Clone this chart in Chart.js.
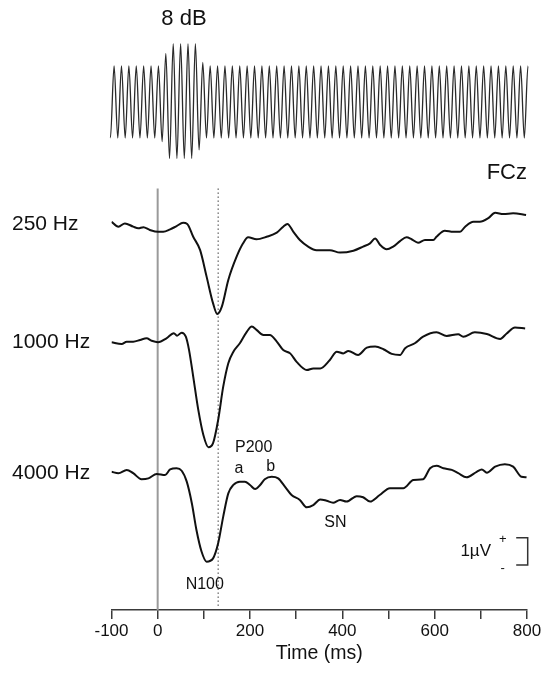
<!DOCTYPE html>
<html>
<head>
<meta charset="utf-8">
<script src="https://cdn.jsdelivr.net/npm/chart.js@4.4.1/dist/chart.umd.min.js"></script>
<style>
  html, body { margin: 0; padding: 0; background: #fff; }
</style>
</head>
<body>
<canvas id="erpChart" width="544" height="676"></canvas>
<script>
// ERP at FCz, amplitudes in microvolts, times in ms
var t250 = [-100,-85,-71,-53,-42,-31,-17,1,12,27,41,55,64,77,92,106,120,129,139,153,171,185,196,214,236,258,272,281,294,308,326,344,373,395,424,445,460,471,482,496,510,525,539,550,564,579,597,604,622,640,655,666,684,698,716,731,749,770,798];
var v250 = [0.23,0.05,0.17,0.05,-0.01,0.03,-0.07,-0.14,-0.14,-0.05,0.07,0.19,0.15,-0.32,-0.81,-1.78,-2.76,-3.15,-2.88,-1.90,-1.05,-0.56,-0.34,-0.41,-0.32,-0.17,0.05,0.15,-0.14,-0.44,-0.68,-0.81,-0.81,-0.90,-0.83,-0.68,-0.56,-0.38,-0.62,-0.78,-0.68,-0.48,-0.34,-0.41,-0.54,-0.44,-0.44,-0.32,-0.10,-0.14,-0.14,0.05,0.23,0.23,0.36,0.56,0.51,0.54,0.48];

var t1000 = [-100,-78,-67,-53,-38,-24,-13,1,19,35,42,52,61,68,77,88,99,110,120,131,142,153,164,178,193,204,214,229,243,258,272,287,301,323,337,352,373,388,402,413,434,453,471,489,507,525,536,557,575,604,626,651,662,687,713,742,756,774,796];
var v1000 = [-0.08,-0.15,-0.06,-0.06,0,0.06,-0.03,-0.08,0.06,0.25,0.16,0.27,0.12,-0.37,-1.34,-2.56,-3.48,-3.93,-3.78,-2.93,-1.71,-0.85,-0.43,-0.12,0.30,0.49,0.37,0.18,0.18,-0.06,-0.37,-0.49,-0.80,-1.10,-1.04,-1.04,-0.73,-0.43,-0.49,-0.40,-0.55,-0.28,-0.24,-0.34,-0.51,-0.55,-0.30,-0.12,0.12,0.28,0.15,0.21,0.12,0.28,0.22,0.04,0.24,0.46,0.42];

var t4000 = [-100,-85,-67,-53,-35,-20,-2,16,27,41,52,63,74,84,95,106,120,131,142,153,164,178,189,200,211,222,232,247,261,276,290,308,323,337,352,366,380,395,409,431,445,460,481,503,532,554,575,590,604,619,637,651,669,691,702,713,731,752,770,788,799];
var v4000 = [0.08,0.03,0.15,0.03,-0.19,-0.16,0,-0.04,0.17,0.21,0.12,-0.28,-1.07,-2.05,-2.84,-3.21,-3.09,-2.54,-1.56,-0.71,-0.40,-0.28,-0.28,-0.40,-0.55,-0.40,-0.19,-0.10,-0.16,-0.47,-0.77,-0.95,-1.22,-1.14,-0.93,-0.98,-1.05,-0.95,-1.01,-0.81,-0.85,-1.01,-0.77,-0.52,-0.52,-0.22,-0.19,0.21,0.30,0.21,0.15,0.03,-0.12,0.08,0.17,0.05,0.27,0.36,0.27,-0.10,-0.12];

// stimulus waveform: successive extrema relative to the standard level (8 dB burst near 0-100 ms)
var stimWave = [0.15,
  -1,1,-1,1,-1,1,-1,1,-1,1,-1,1,-1,1,
  -1.1,1.35,-1.57,1.62,-1.57,1.62,-1.57,1.62,-1.57,1.62,-1.33,1.1,
  -1,1,-1,1,-1,1,-1,1,-1,1,-1,1,-1,1,-1,1,-1,1,-1,1,-1,1,-1,1,
  -1,1,-1,1,-1,1,-1,1,-1,1,-1,1,-1,1,-1,1,-1,1,-1,1,-1,1,-1,1,
  -1,1,-1,1,-1,1,-1,1,-1,1,-1,1,-1,1,-1,1,-1,1,-1,1,-1,1,-1,1,
  -1,1,-1,1,-1,1,-1,1,-1,1,-1,1,-1,1,-1,1,
  0];

var xTickLabels = [-100, 0, 200, 400, 600, 800];
var markerTimes = [0, 131];   // stimulus onset, N100 latency

var FONT = "'Liberation Sans', Arial, Helvetica, sans-serif";

function pts(ts, vs) {
  return ts.map(function (t, i) { return { x: t, y: vs[i] }; });
}

var erpStyle = {
  borderColor: '#111', borderWidth: 2, pointRadius: 0,
  cubicInterpolationMode: 'monotone', fill: false
};

var decor = {
  id: 'decor',
  beforeDatasetsDraw: function (chart) {
    var ctx = chart.ctx, x = chart.scales.x, area = chart.chartArea;
    var top = chart.scales.y250.getPixelForValue(1.45);
    ctx.save();
    // onset line
    ctx.strokeStyle = '#9a9a9a'; ctx.lineWidth = 2;
    ctx.beginPath();
    ctx.moveTo(x.getPixelForValue(markerTimes[0]), top);
    ctx.lineTo(x.getPixelForValue(markerTimes[0]), area.bottom);
    ctx.stroke();
    // N100 latency line
    ctx.strokeStyle = '#444'; ctx.lineWidth = 1; ctx.setLineDash([1.5, 2.5]);
    ctx.beginPath();
    ctx.moveTo(x.getPixelForValue(markerTimes[1]), top);
    ctx.lineTo(x.getPixelForValue(markerTimes[1]), area.bottom - 3);
    ctx.stroke();
    ctx.restore();
  },
  afterDatasetsDraw: function (chart) {
    var ctx = chart.ctx, x = chart.scales.x, s = chart.scales;
    ctx.save();
    ctx.fillStyle = '#111';
    ctx.textBaseline = 'middle';

    // condition labels
    ctx.font = '21px ' + FONT;
    ctx.textAlign = 'left';
    ctx.fillText('250 Hz', 12, s.y250.getPixelForValue(0) - 4);
    ctx.fillText('1000 Hz', 12, s.y1000.getPixelForValue(0) + 2);
    ctx.fillText('4000 Hz', 12, s.y4000.getPixelForValue(0) - 1);

    ctx.font = '22px ' + FONT;
    ctx.textAlign = 'right';
    ctx.fillText('FCz', x.getPixelForValue(800), s.y250.getPixelForValue(2.0));
    ctx.textAlign = 'center';
    ctx.fillText('8 dB', x.getPixelForValue(57), s.ys.getPixelForValue(2.3));

    // component labels
    ctx.font = '16px ' + FONT;
    ctx.fillText('P200', x.getPixelForValue(208), s.y4000.getPixelForValue(0.97));
    ctx.fillText('a', x.getPixelForValue(176), s.y4000.getPixelForValue(0.2));
    ctx.fillText('b', x.getPixelForValue(245), s.y4000.getPixelForValue(0.27));
    ctx.fillText('SN', x.getPixelForValue(385), s.y4000.getPixelForValue(-1.78));
    ctx.fillText('N100', x.getPixelForValue(102), s.y4000.getPixelForValue(-4.05));

    // 1 µV scale bar
    var bx = x.getPixelForValue(800) + 0.7;
    var b1 = s.y4000.getPixelForValue(-2.33), b2 = s.y4000.getPixelForValue(-3.33);
    ctx.strokeStyle = '#333'; ctx.lineWidth = 1.5;
    ctx.beginPath();
    ctx.moveTo(bx - 11.5, b1); ctx.lineTo(bx, b1); ctx.lineTo(bx, b2); ctx.lineTo(bx - 11.5, b2);
    ctx.stroke();
    ctx.font = '17px ' + FONT;
    ctx.fillText('1\u00b5V', bx - 52, (b1 + b2) / 2);
    ctx.font = '13px ' + FONT;
    ctx.fillText('+', bx - 25, b1 + 2);
    ctx.fillText('-', bx - 25, b2 + 3);
    ctx.restore();
  }
};

new Chart(document.getElementById('erpChart'), {
  type: 'line',
  data: {
    datasets: [
      Object.assign({ data: pts(t250, v250), yAxisID: 'y250', xAxisID: 'x' }, erpStyle),
      Object.assign({ data: pts(t1000, v1000), yAxisID: 'y1000', xAxisID: 'x' }, erpStyle),
      Object.assign({ data: pts(t4000, v4000), yAxisID: 'y4000', xAxisID: 'x' }, erpStyle),
      {
        data: stimWave.map(function (v, i) { return { x: i, y: v }; }),
        xAxisID: 'xs', yAxisID: 'ys',
        borderColor: '#2a2a2a', borderWidth: 1.3, pointRadius: 0,
        cubicInterpolationMode: 'monotone', clip: false
      }
    ]
  },
  options: {
    responsive: false,
    animation: false,
    devicePixelRatio: 1,
    layout: { padding: { left: 111.5, right: 17, top: 0, bottom: 0 } },
    plugins: { legend: { display: false }, tooltip: { enabled: false } },
    scales: {
      x: {
        type: 'linear', position: 'bottom', min: -100, max: 800,
        afterFit: function (scale) { scale.height = 66; },
        border: { display: true, color: '#3a3a3a', width: 1.5 },
        grid: { drawOnChartArea: false, drawTicks: true, tickLength: 9, color: '#3a3a3a', lineWidth: 1.5 },
        ticks: {
          stepSize: 100, autoSkip: false, maxRotation: 0, padding: 2,
          color: '#111', font: { family: FONT, size: 17 },
          callback: function (v) { return xTickLabels.indexOf(v) >= 0 ? String(v) : ''; }
        },
        title: {
          display: true, text: 'Time (ms)', color: '#111',
          font: { family: FONT, size: 19.5 }, padding: { top: 0, bottom: 11 }
        }
      },
      xs: { type: 'linear', display: false, min: 1.3, max: 113.73 },
      ys: { type: 'linear', display: false, min: -14.11, max: 2.833 },
      y250: { type: 'linear', display: false, min: -13.99, max: 8.352 },
      y1000: { type: 'linear', display: false, min: -9.89, max: 12.454 },
      y4000: { type: 'linear', display: false, min: -4.981, max: 17.363 }
    }
  },
  plugins: [decor]
});
</script>
</body>
</html>
